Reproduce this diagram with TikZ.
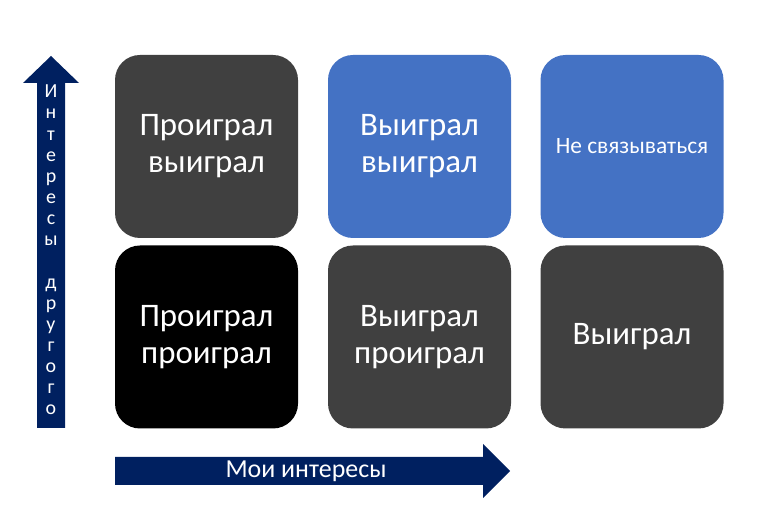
\documentclass[tikz,border=0pt]{standalone}
\usepackage{fontspec}
\setmainfont{Carlito}
\definecolor{boxgray}{HTML}{404040}
\definecolor{boxblue}{HTML}{4472C4}
\definecolor{axisblue}{HTML}{002060}
\tikzset{
  cell/.style={rounded corners=25bp,minimum width=183bp,minimum height=183bp,
    text=white,align=center,font=\fontsize{33}{37}\selectfont},
  axislabel/.style={text=white,align=center}
}
\begin{document}
\begin{tikzpicture}[x=1bp,y=1bp]
      \useasboundingbox (0,0) rectangle (760,527);

      \begin{scope}[every node/.style={cell}]
        \node[fill=boxgray] (11) at (206.5,380.5) {Проиграл\\выиграл};
        \node[fill=boxblue] (12) at (419.5,380.5) {Выиграл\\выиграл};
        \node[fill=boxblue,font=\fontsize{23.5}{28}\selectfont] (13) at (632,380.5) {Не связываться};
        \node[fill=black]   (21) at (206.5,190) {Проиграл\\проиграл};
        \node[fill=boxgray] (22) at (419.5,190) {Выиграл\\проиграл};
        \node[fill=boxgray] (23) at (632,190) {Выиграл};
      \end{scope}

      % axes
      \fill[axisblue] (37,99) -- (37,444) -- (23,444) -- (51,471) -- (79,444)
        -- (65,444) -- (65,99) -- cycle;
      \fill[axisblue] (115,70) -- (483,70) -- (483,83) -- (510,56) -- (483,29)
        -- (483,42) -- (115,42) -- cycle;

      \begin{scope}[every node/.style={axislabel}]
        \node[font=\fontsize{26}{30}\selectfont] (mine) at (306,56) {Мои интересы};
        \node[font=\fontsize{20}{21.2}\selectfont] (other) at (51,277)
          {И\\н\\т\\е\\р\\е\\с\\ы\\[21.2bp]д\\р\\у\\г\\о\\г\\о};
      \end{scope}

    \end{tikzpicture}
\end{document}
